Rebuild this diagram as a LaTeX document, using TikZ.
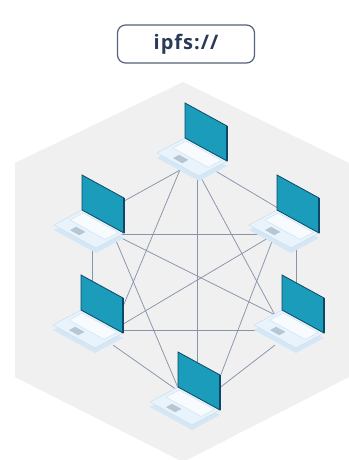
\documentclass[tikz,border=0pt]{standalone}
\usepackage{fontspec}
\newfontfamily\urlfont[LetterSpace=5]{Open Sans}
\definecolor{hexgray}{HTML}{F0F0F1}
\definecolor{linkgray}{HTML}{8894A9}
\definecolor{screenteal}{HTML}{1A9CBA}
\definecolor{screenedge}{HTML}{0E4868}
\definecolor{plateblue}{HTML}{D5E7F5}
\definecolor{deckblue}{HTML}{E9F3FB}
\definecolor{deckline}{HTML}{C9DFF0}
\definecolor{padgray}{HTML}{B6C6D3}
\definecolor{boxline}{HTML}{56627A}
\definecolor{urltext}{HTML}{2A3A57}
\tikzset{
 laptop/.pic={
  % base plate and deck
  \fill[plateblue] (0,5) -- (42,28) -- (14,43) -- (-28,20) -- cycle;
  \filldraw[fill=deckblue,draw=deckline,line width=0.5pt] (0,0) -- (42,23) -- (14,38) -- (-28,15) -- cycle;
  \filldraw[fill=white!70!deckblue,draw=deckline,line width=0.4pt] (1.1,3) -- (36.4,22.4) -- (23.2,29.4) -- (-12,10.1) -- cycle;
  \fill[padgray] (-5.9,16.8) -- (3.4,21.9) -- (-2.8,25.2) -- (-12,20.1) -- cycle;
  % screen
  \filldraw[fill=screenteal,draw=screenedge,line width=0.8pt] (0,0) -- (42,23) -- (42,-12) -- (0,-35) -- cycle;
  \draw[screenedge,line width=1.8pt] (42,-12) -- (42,23);
 }
}
\begin{document}
\begin{tikzpicture}[x=1pt,y=-1pt,
 link/.style={linkgray,line width=0.75pt},
 hub/.style={inner sep=0pt,minimum width=42pt,minimum height=30pt},
 urlbox/.style={draw=boxline,line width=1.2pt,fill=white,rounded corners=8pt,
  minimum width=137pt,minimum height=38pt,text=urltext,
  font=\urlfont\bfseries\fontsize{20}{22}\selectfont}]
 \useasboundingbox (0,0) rectangle (348,460);
 \fill[white] (0,0) rectangle (348,460);
 \fill[hexgray] (183,82) -- (349,163) -- (349,377) -- (183,462) -- (15,377) -- (15,163) -- cycle;
 \node[urlbox] (url) at (186,44) {ipfs://};
 % hubs, one per machine
 \node[hub,minimum width=34pt,minimum height=34pt] (t) at (197,153) {};
 \node[hub] (ul) at (92,234) {};
 \node[hub] (ur) at (296,234) {};
 \node[hub] (ll) at (92,330) {};
 \node[hub] (lr) at (296,330) {};
 \node[hub,minimum width=34pt,minimum height=40pt] (b) at (197,392) {};
 % every machine talks to every other
 \draw[link] (t.south west) -- (ul.north);
 \draw[link] (t.south east) -- (ur.north);
 \draw[link] (t.south west) -- (ll.east);
 \draw[link] (t.south) -- (lr.north west);
 \draw[link] (t.south) -- (b.north);
 \draw[link] (ul.east) -- (ur.west);
 \draw[link] (ul.south) -- (ll.north);
 \draw[link] (ul.east) -- (lr.north west);
 \draw[link] (ul.east) -- (b.west);
 \draw[link] (ur.west) -- (ll.east);
 \draw[link] (ur.south) -- (lr.north);
 \draw[link] (ur.west) -- (b.east);
 \draw[link] (ll.east) -- (lr.west);
 \draw[link] (ll.south east) -- (b.west);
 \draw[link] (lr.south west) -- (b.east);
 % laptops on top of the links
 \pic at (185,138) {laptop};
 \pic at (82,210) {laptop};
 \pic at (277,210) {laptop};
 \pic at (81,310) {laptop};
 \pic at (282,310) {laptop};
 \pic at (178,387) {laptop};
\end{tikzpicture}
\end{document}
